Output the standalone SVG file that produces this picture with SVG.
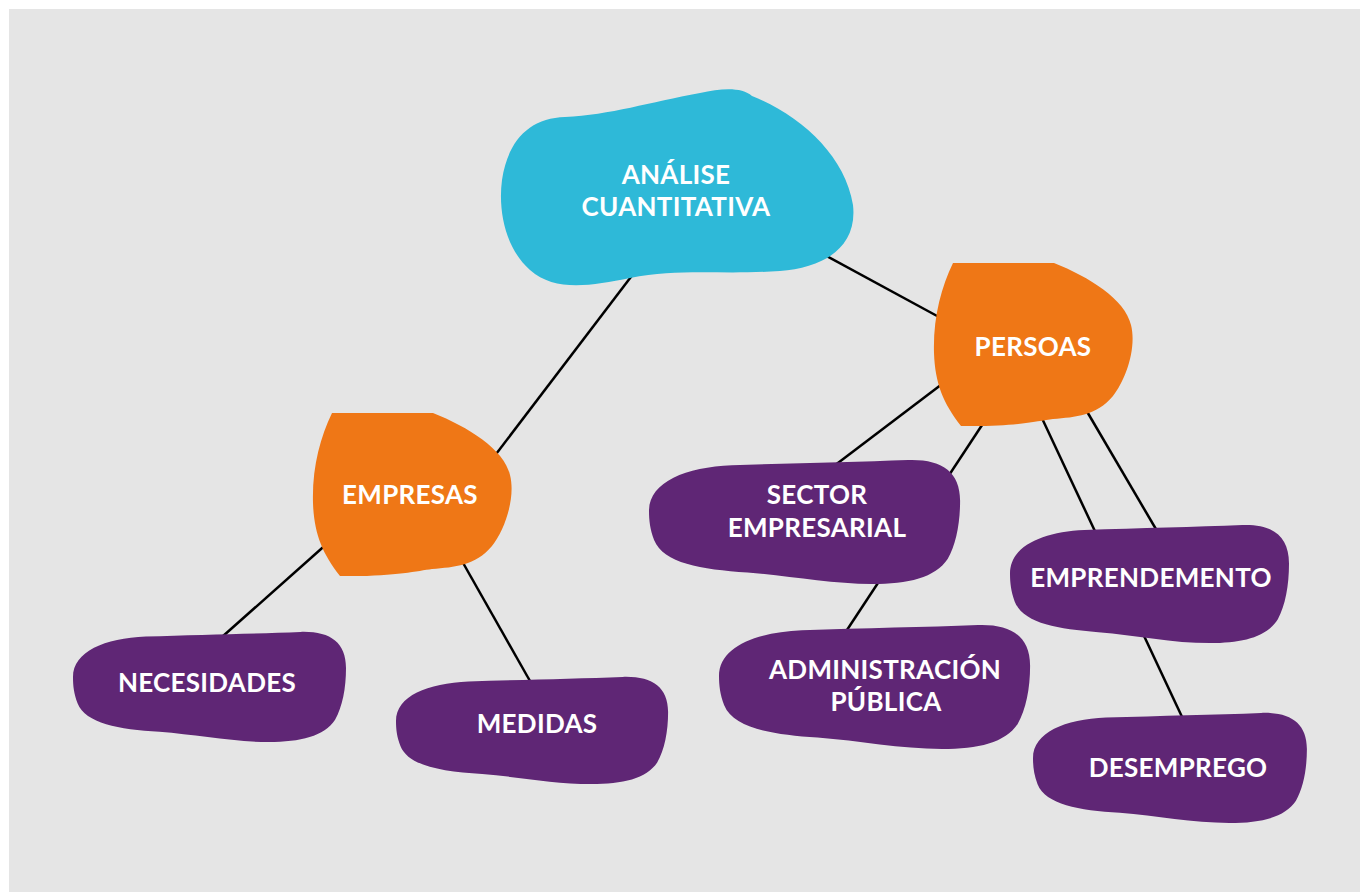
<svg xmlns="http://www.w3.org/2000/svg" width="1360" height="892" viewBox="0 0 1360 892">
  <style>
    .lbl { font-family: Lato, "Open Sans", "Liberation Sans", sans-serif; font-weight: 700; font-size: 26px; letter-spacing: 0.3px; fill: #ffffff; text-anchor: middle; }
    .link { stroke: #000000; stroke-width: 2.5; fill: none; }
    .cyan { fill: #2eb9d8; }
    .orange { fill: #ef7716; }
    .purple { fill: #5f2675; }
  </style>
  <defs>
    <!-- orange node outline, 0,0 = top-left corner of the flat top edge -->
    <path id="orangeShape" d="M 0 0 L 101 0 C 136 14, 172 36, 178 62 C 184 86, 172 118, 160 133 C 143 153, 123 154, 100 156 C 85 158, 60 164, 8 163 C -10 140, -18 120, -19 90 C -20 55, -12 25, 0 0 Z"/>
    <!-- purple node outline in a 300 x 120 box -->
    <path id="purpleShape" d="M 0 50 C 0 22, 35 8, 80 6 C 140 4, 200 3, 250 1 C 282 0, 300 12, 300 40 C 300 62, 296 82, 288 96 C 276 114, 250 120, 215 120 C 175 120, 135 112, 95 109 C 50 106, 14 100, 5 78 C 1 68, 0 59, 0 50 Z"/>
  </defs>

  <rect x="9" y="9" width="1351" height="883" fill="#e5e5e5"/>

  <g id="connectors">
    <line class="link" x1="640" y1="265" x2="490" y2="462"/>
    <line class="link" x1="810" y1="247" x2="950" y2="323"/>
    <line class="link" x1="950" y1="378" x2="830" y2="469"/>
    <line class="link" x1="988" y1="416" x2="845" y2="633"/>
    <line class="link" x1="1040" y1="414" x2="1183" y2="719"/>
    <line class="link" x1="1082" y1="403" x2="1160" y2="536"/>
    <line class="link" x1="330" y1="541" x2="222" y2="637"/>
    <line class="link" x1="458" y1="554" x2="530" y2="681"/>
  </g>

  <g id="node-analise">
    <path class="cyan" d="M 565 117 C 610 115, 650 102, 700 93 C 722 88, 742 87, 752 96 C 800 115, 845 155, 853 205 C 858 250, 820 268, 780 271 C 720 275, 680 268, 630 278 C 590 286, 555 292, 530 270 C 505 248, 498 210, 502 180 C 508 140, 530 118, 565 117 Z"/>
    <text class="lbl" x="676" y="184">ANÁLISE</text>
    <text class="lbl" x="676" y="216">CUANTITATIVA</text>
  </g>

  <g id="node-persoas">
    <use href="#orangeShape" class="orange" transform="translate(953,263)"/>
    <text class="lbl" x="1033" y="356">PERSOAS</text>
  </g>

  <g id="node-empresas">
    <use href="#orangeShape" class="orange" transform="translate(332,413)"/>
    <text class="lbl" x="410" y="504">EMPRESAS</text>
  </g>

  <g id="node-necesidades">
    <use href="#purpleShape" class="purple" transform="translate(73,631) scale(0.91,0.925)"/>
    <text class="lbl" x="207" y="692">NECESIDADES</text>
  </g>

  <g id="node-medidas">
    <use href="#purpleShape" class="purple" transform="translate(396,676) scale(0.907,0.9)"/>
    <text class="lbl" x="537" y="733">MEDIDAS</text>
  </g>

  <g id="node-sector">
    <use href="#purpleShape" class="purple" transform="translate(649,459) scale(1.037,1.042)"/>
    <text class="lbl" x="817" y="504">SECTOR</text>
    <text class="lbl" x="817" y="537">EMPRESARIAL</text>
  </g>

  <g id="node-administracion">
    <use href="#purpleShape" class="purple" transform="translate(719,624) scale(1.037,1.042)"/>
    <text class="lbl" x="885" y="679">ADMINISTRACIÓN</text>
    <text class="lbl" x="886" y="711">PÚBLICA</text>
  </g>

  <g id="node-emprendemento">
    <use href="#purpleShape" class="purple" transform="translate(1010,524) scale(0.93,0.992)"/>
    <text class="lbl" x="1151" y="587">EMPRENDEMENTO</text>
  </g>

  <g id="node-desemprego">
    <use href="#purpleShape" class="purple" transform="translate(1033,712) scale(0.913,0.925)"/>
    <text class="lbl" x="1178" y="777">DESEMPREGO</text>
  </g>
</svg>
